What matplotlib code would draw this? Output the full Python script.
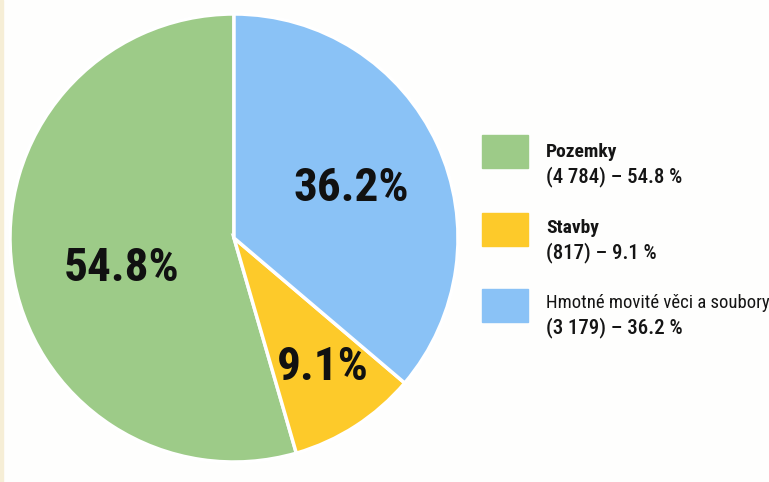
import matplotlib
matplotlib.use("Agg")
import matplotlib.pyplot as plt
from matplotlib.patches import Rectangle
import numpy as np

# data
names = ['Pozemky', 'Stavby', 'Hmotné movité věci a soubory']
counts = [4784, 817, 3179]
shares = [54.8, 9.1, 36.2]
pie_labels = ['54.8%', '9.1%', '36.2%']
colors = ['#9dcb88', '#fdca2a', '#8ac2f6']

# label placement inside each wedge: distance from centre, angle shift (deg)
label_dist = [0.52, 0.70, 0.57]
label_shift = [6.8, 1.5, -1.9]

plt.rcParams['font.family'] = ['Roboto Condensed', 'Roboto', 'DejaVu Sans']

fig = plt.figure(figsize=(7.69, 4.82), dpi=100)
fig.patch.set_facecolor('#fefefd')
# thin cream strip on the left edge
fig.patches.append(Rectangle((0, 0), 3 / 769, 1, transform=fig.transFigure,
                             color='#f6eed6', zorder=0))

ax = fig.add_axes([10 / 769, 20 / 482, 448 / 769, 448 / 482])
wedges, _ = ax.pie(counts, colors=colors, startangle=90, counterclock=True,
                   wedgeprops=dict(edgecolor='white', linewidth=2.5))
ax.set_xlim(-1, 1)
ax.set_ylim(-1, 1)
ax.set_aspect('equal')
ax.axis('off')

# percentage labels inside the wedges
for w, lab, d, s in zip(wedges, pie_labels, label_dist, label_shift):
    mid = np.radians((w.theta1 + w.theta2) / 2 + s)
    ax.text(d * np.cos(mid), d * np.sin(mid), lab, ha='center', va='center',
            fontsize=34, fontweight='semibold', color='#111111')

# legend drawn by hand
box_top = [135, 213, 289]
line1 = [157, 233, 308]
line2 = [182, 258, 333]
weights = ['bold', 'bold', 'normal']
name_size = [14, 14, 13.5]
for i in range(len(names)):
    fig.patches.append(Rectangle((482 / 769, 1 - (box_top[i] + 33) / 482), 46 / 769, 33 / 482,
                                 transform=fig.transFigure, color=colors[i]))
    fig.text(546 / 769, 1 - line1[i] / 482, names[i], fontsize=name_size[i],
             fontweight=weights[i], va='baseline', color='#151515')
    num = f'{counts[i]:,}'.replace(',', ' ')
    fig.text(546 / 769, 1 - line2[i] / 482, f'({num}) – {shares[i]} %',
             fontsize=15, fontweight='medium', va='baseline', color='#151515')

fig.savefig('out.png', dpi=100)
